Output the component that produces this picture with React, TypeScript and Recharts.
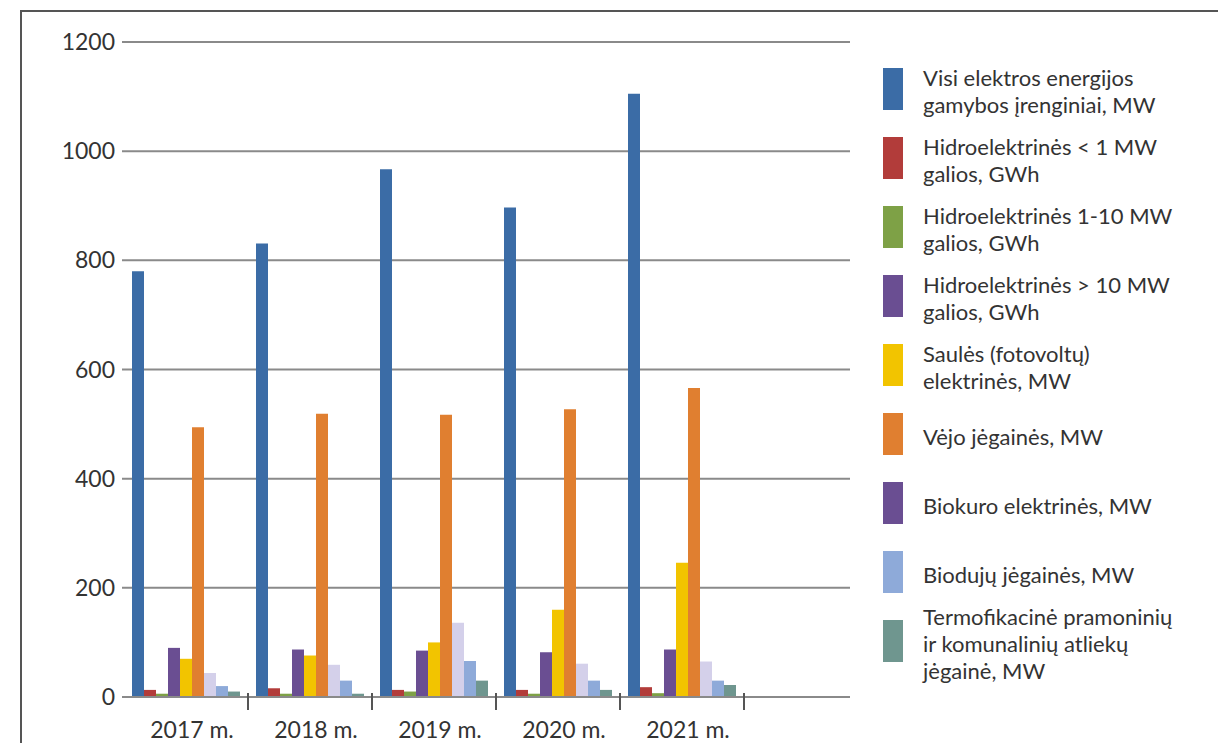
import React from 'react';
import { BarChart, Bar, XAxis, YAxis, CartesianGrid } from 'recharts';

const years = ['2017 m.', '2018 m.', '2019 m.', '2020 m.', '2021 m.'];
const visi = [780, 831, 967, 897, 1105];
const hidroMaz = [13, 16, 13, 13, 18];
const hidroVid = [6, 6, 10, 6, 7];
const hidroDid = [90, 87, 85, 82, 87];
const saules = [70, 76, 100, 160, 246];
const vejo = [494, 519, 517, 527, 566];
const biokuro = [44, 59, 136, 61, 65];
const biodujos = [20, 30, 66, 30, 30];
const termo = [10, 6, 30, 13, 22];
const yTicks = [0, 200, 400, 600, 800, 1000, 1200];

const series = [
  { key: 'visi', values: visi, color: '#3b6ca6', legend: '#3b6ca6', label: ['Visi elektros energijos', 'gamybos įrenginiai, MW'] },
  { key: 'hidroMaz', values: hidroMaz, color: '#b23c3a', legend: '#b23c3a', label: ['Hidroelektrinės < 1 MW', 'galios, GWh'] },
  { key: 'hidroVid', values: hidroVid, color: '#7ea146', legend: '#7ea146', label: ['Hidroelektrinės 1-10 MW', 'galios, GWh'] },
  { key: 'hidroDid', values: hidroDid, color: '#6a4e92', legend: '#6a4e92', label: ['Hidroelektrinės > 10 MW', 'galios, GWh'] },
  { key: 'saules', values: saules, color: '#f2c400', legend: '#f2c400', label: ['Saulės (fotovoltų)', 'elektrinės, MW'] },
  { key: 'vejo', values: vejo, color: '#e07f30', legend: '#e07f30', label: ['Vėjo jėgainės, MW'] },
  { key: 'biokuro', values: biokuro, color: '#d4d0ea', legend: '#6a4e92', label: ['Biokuro elektrinės, MW'] },
  { key: 'biodujos', values: biodujos, color: '#8eaad9', legend: '#8eaad9', label: ['Biodujų jėgainės, MW'] },
  { key: 'termo', values: termo, color: '#6f968f', legend: '#6f968f', label: ['Termofikacinė pramoninių', 'ir komunalinių atliekų', 'jėgainė, MW'] },
];

const data = years.map((year, i) => {
  const row: Record<string, string | number> = { year };
  series.forEach((s) => { row[s.key] = s.values[i]; });
  return row;
});

const FONT = 'Lato, "Open Sans", sans-serif';
const CHART_W = 850;
const CHART_H = 735;
const Y_AXIS_W = 114;
const MARGIN = { top: 34, right: 8, left: 0, bottom: 0 };
const PAD = { left: 2, right: 106 };
const BAND = (CHART_W - MARGIN.right - MARGIN.left - Y_AXIS_W - PAD.left - PAD.right) / years.length;

const XTick = (props: any) => {
  const { x, y, payload } = props;
  const bx = x + BAND / 2;
  return (
    <g>
      <text x={x + 6} y={y + 41} textAnchor="middle" fill="#333" fontSize={23} fontFamily={FONT}>
        {payload.value}
      </text>
      <line x1={bx} x2={bx} y1={y - 4} y2={y + 13} stroke="#555" strokeWidth={2} />
    </g>
  );
};

const LegendBlock = () => (
  <div style={{ position: 'absolute', left: 875, top: 60, width: 335, fontFamily: FONT, color: '#333' }}>
    {series.map((s) => (
      <div key={s.key} style={{ height: 69, display: 'flex', alignItems: 'flex-start' }}>
        <div style={{ height: 42, display: 'flex', alignItems: 'center' }}>
          <div style={{ width: 20, height: 42, background: s.legend, flex: '0 0 auto' }} />
          <div style={{ marginLeft: 20, fontSize: 22, lineHeight: '27px', whiteSpace: 'nowrap', marginTop: 4 }}>
            {s.label.map((l, i) => (
              <div key={i}>{l}</div>
            ))}
          </div>
        </div>
      </div>
    ))}
  </div>
);

export default function App() {
  return (
    <div style={{ position: 'relative', width: 1210, height: 735, overflow: 'hidden', background: '#fff' }}>
      <div
        style={{
          position: 'absolute', left: 12, top: 2, width: 1400, height: 900,
          borderTop: '2px solid #555', borderLeft: '2px solid #555',
        }}
      />
      <div style={{ position: 'absolute', left: 0, top: 0 }}>
        <BarChart
          width={CHART_W}
          height={CHART_H}
          data={data}
          margin={MARGIN}
          barGap={0}
          barCategoryGap={8}
        >
          <CartesianGrid vertical={false} stroke="#8a8a8a" strokeWidth={2} />
          <YAxis
            type="number"
            domain={[0, 1200]}
            ticks={yTicks}
            width={Y_AXIS_W}
            axisLine={false}
            tickLine={false}
            tickSize={0}
            tickMargin={7}
            tick={{ fill: '#333', fontSize: 23, fontFamily: FONT }}
          />
          <XAxis
            dataKey="year"
            height={46}
            padding={PAD}
            axisLine={{ stroke: '#8a8a8a', strokeWidth: 2 }}
            tickLine={false}
            tickSize={0}
            tickMargin={0}
            interval={0}
            tick={<XTick />}
          />
          {series.map((s) => (
            <Bar key={s.key} dataKey={s.key} fill={s.color} isAnimationActive={false} />
          ))}
        </BarChart>
      </div>
      <LegendBlock />
    </div>
  );
}
